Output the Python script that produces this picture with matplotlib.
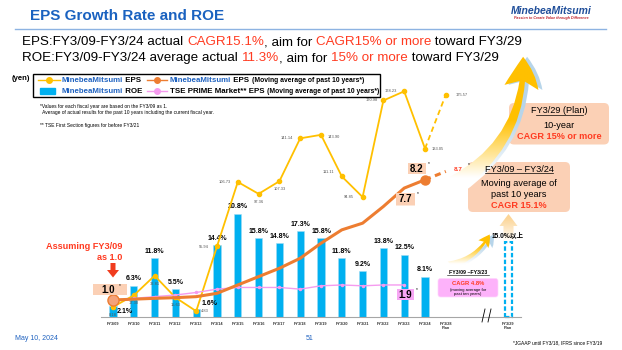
import numpy as np
import matplotlib.pyplot as plt
from matplotlib.patches import FancyBboxPatch, Rectangle, FancyArrowPatch, Polygon

plt.rcParams['font.family'] = ['Liberation Sans', 'Noto Sans CJK JP', 'DejaVu Sans']

years = ['FY3/09', 'FY3/10', 'FY3/11', 'FY3/12', 'FY3/13', 'FY3/14', 'FY3/15', 'FY3/16',
         'FY3/17', 'FY3/18', 'FY3/19', 'FY3/20', 'FY3/21', 'FY3/22', 'FY3/23', 'FY3/24']
plan_labels = ['FY3/28\nPlan', 'FY3/29\nPlan']
roe = [2.1, 6.3, 11.8, 5.5, 1.6, 14.4, 20.8, 15.8, 14.8, 17.3, 15.8, 11.8, 9.2, 13.8, 12.5, 8.1]
roe_plan = 15.0
eps = [8.18, 17.30, 32.81, 15.63, 4.83, 55.94, 106.73, 97.36, 107.33, 141.14, 143.90,
       111.11, 94.85, 170.98, 178.23, 133.05]
eps_plan = 175.57
eps_ma = [1.0, 1.05, 1.1, 1.14, 1.2, 1.4, 1.9, 2.4, 2.9, 3.5, 4.4, 5.2, 5.6, 6.6, 7.7, 8.2]
eps_ma_plan = 8.7
tse_ma = [1.0, 1.1, 1.2, 1.3, 1.45, 1.65, 1.75, 1.75, 1.75, 1.65, 1.85, 1.9, 1.85, 1.9, 1.9]

# label offsets for eps values (pixels), hand placed
eps_off = [(0, 8), (0, 8), (0, 8), (0, 8), (9, 0), (-13, 1), (-13, 0), (0, 8), (0, 8),
           (-13, 0), (13, 2), (-13, -4), (-14, 0), (-12, 0), (-13, 0), (13, 0)]

W, H = 622, 350
X0, DX = 113, 20.8
BASE = 316.7
RED = '#FF3B21'
BLUE_TXT = '#1F62C0'
PEACH = '#FBD0B5'

fig = plt.figure(figsize=(6.22, 3.5), dpi=100)
ax = fig.add_axes([0, 0, 1, 1])
ax_yen = ax.twinx()
ax_idx = ax.twinx()
for a in (ax, ax_yen, ax_idx):
    a.set_axis_off()
ax.set_xlim(-X0 / DX, (W - X0) / DX)
ax.set_ylim((BASE - H) / 4.95, BASE / 4.95)
ax_yen.set_ylim((317.3 - H) / 1.268, 317.3 / 1.268)
ax_idx.set_ylim((BASE - H) / 16.7, BASE / 16.7)

x = np.arange(len(years))
ix_plan28, ix_plan29 = 16, 19

# ROE bars
ax.bar(x, roe, width=0.34, color='#00B0F0', edgecolor='#9FDCF5', lw=0.4)
ax.bar(ix_plan29, roe_plan, width=0.34, fill=False, edgecolor='#00B0F0', ls=(0, (2, 1)), lw=1.6)
for i, v in enumerate(roe):
    if i == 0:
        ax.text(i + 0.2, 1.0, f'{v}%', fontsize=5, fontweight='bold', va='center')
    elif i == 4:
        ax.text(i + 0.25, 2.7, f'{v}%', fontsize=5, fontweight='bold', va='center')
    else:
        ax.text(i, v + 0.7, f'{v}%', fontsize=5, fontweight='bold', ha='center', va='bottom')
ax.plot([-0.6, 19.6], [0, 0], color='#A6A6A6', lw=0.8)
for i, lab in enumerate(years):
    ax.text(i, -1.0, lab, fontsize=2.8, fontweight='bold', ha='center', va='top', color='#333333')
for i, lab in zip([ix_plan28, ix_plan29], plan_labels):
    ax.text(i, -1.0, lab, fontsize=2.8, fontweight='bold', ha='center', va='top',
            color='#333333', linespacing=1.0)

# EPS (yen)
ax_yen.plot(x, eps, color='#FFC000', lw=1.3, marker='o', ms=3)
ax_yen.plot([x[-1], ix_plan28], [eps[-1], eps_plan], color='#FFC000', lw=1.3, ls=(0, (3, 2)))
ax_yen.plot(ix_plan28, eps_plan, 'o', color='#FFC000', ms=3)
for i, v in enumerate(eps):
    dx, dy = eps_off[i]
    ax_yen.annotate(f'{v:.2f}', (i, v), xytext=(dx * 0.72, -dy * 0.72), textcoords='offset points',
                    fontsize=2.9, color='#555555', ha='center', va='center')
ax_yen.annotate(f'{eps_plan:.2f}', (ix_plan28, eps_plan), xytext=(16 * 0.72, 0),
                textcoords='offset points', fontsize=2.9, color='#555555', ha='center', va='center')

# moving averages (index)
ax_idx.plot(np.arange(len(tse_ma)), tse_ma, color='#F59BEF', lw=1.0, marker='o', ms=1.5)
ax_idx.plot(x, eps_ma, color='#ED7D31', lw=2.2)
ax_idx.plot([x[-1], ix_plan28], [eps_ma[-1], eps_ma_plan], color='#ED7D31', lw=2.2, ls=(0, (2, 1.5)))
ax_idx.plot(0, eps_ma[0], 'o', ms=8, mfc='#F4A27A', mec='#ED7D31', mew=1)
ax_idx.plot(x[-1], eps_ma[-1], 'o', ms=6.5, color='#ED7D31')

# overlay in pixel coordinates
ov = fig.add_axes([0, 0, 1, 1])
ov.set_xlim(0, W)
ov.set_ylim(H, 0)
ov.set_axis_off()
ov.patch.set_alpha(0)
renderer = fig.canvas.get_renderer()


def box(x0, y0, x1, y1, fc, r=1.5, ec='none', lw=0):
    ov.add_patch(FancyBboxPatch((x0, y0), x1 - x0, y1 - y0,
                                boxstyle=f'round,pad=0,rounding_size={r}',
                                fc=fc, ec=ec, lw=lw))


def txt(xp, yp, s, size, **kw):
    kw.setdefault('va', 'center')
    return ov.text(xp, yp, s, fontsize=size, **kw)


def colored_line(xp, yp, parts, size, **kw):
    # all parts on one baseline, each one starting where the previous one ends
    for p in parts:
        s, c = p[0], p[1]
        fs = p[2] if len(p) > 2 else size
        t = ov.text(xp, yp, s, fontsize=fs, color=c, va='baseline', **kw)
        bb = t.get_window_extent(renderer)
        xp = ov.transData.inverted().transform((bb.x1, bb.y0))[0]


def grad_fill(patch, c_top, c_bot, y_solid, y_white, ext):
    # vertical fade of a colour into white, clipped to a patch
    ys = np.linspace(ext[3], ext[2], 120)
    f = np.clip((ys - y_solid) / (y_white - y_solid), 0, 1)[:, None, None]
    top = np.array(c_top)[None, None, :]
    bot = np.array(c_bot)[None, None, :]
    img = np.repeat(top * (1 - f) + bot * f, 2, axis=1)
    im = ov.imshow(img, extent=ext, aspect='auto', zorder=patch.get_zorder(),
                   interpolation='bilinear')
    im.set_clip_path(patch)


def hexrgb(h):
    return [int(h[k:k + 2], 16) / 255 for k in (1, 3, 5)]


# header
txt(30, 15.5, 'EPS Growth Rate and ROE', 11, color='#1A62C0', fontweight='bold')
ov.plot([15, 606], [28.5, 28.5], color='#8DB3E2', lw=1)
txt(551, 10.5, 'MinebeaMitsumi', 7.5, color='#1F4E9A', fontweight='bold', style='italic', ha='center')
txt(551, 17.5, 'Passion to Create Value through Difference', 2.6, color='#C0202A',
    fontweight='bold', style='italic', ha='center')

colored_line(22, 45.2, [('EPS:FY3/09-FY3/24 actual ', 'black'), ('CAGR15.1%', RED),
                        (', aim for ', 'black'), ('CAGR15% or more', RED),
                        (' toward FY3/29', 'black')], 9.6)
colored_line(22, 61.2, [('ROE:FY3/09-FY3/24 average actual ', 'black'), ('11.3%', RED),
                        (', aim for ', 'black'), ('15% or more', RED),
                        (' toward FY3/29', 'black')], 9.6)

# legend
txt(12, 78.5, '(yen)', 5.5, fontweight='bold')
ov.add_patch(Rectangle((32.5, 74), 347.5, 23.3, fill=False, ec='black', lw=1))
ov.plot([38, 60], [80, 80], color='#FFC000', lw=1)
ov.plot(49, 80, 'o', color='#FFC000', ms=4)
colored_line(62, 82.2, [('MinebeaMitsumi', BLUE_TXT), (' EPS', 'black')], 5.7, fontweight='bold')
ov.plot([147, 167], [80, 80], color='#ED7D31', lw=1)
ov.plot(157, 80, 'o', color='#ED7D31', ms=4)
colored_line(170, 82.2, [('MinebeaMitsumi', BLUE_TXT), (' EPS ', 'black'),
                         ("(Moving average of past 10 years*)", 'black', 4.9)], 5.7,
             fontweight='bold')
ov.add_patch(Rectangle((40, 87.5), 15, 6, color='#00B0F0'))
colored_line(62, 92.7, [('MinebeaMitsumi', BLUE_TXT), (' ROE', 'black')], 5.7, fontweight='bold')
ov.plot([147, 167], [90.5, 90.5], color='#F59BEF', lw=1)
ov.plot(157, 90.5, 'o', color='#F59BEF', ms=4)
colored_line(170, 92.7, [('TSE PRIME Market** EPS ', 'black'),
                         ("(Moving average of past 10 years*)", 'black', 4.9)], 5.7,
             fontweight='bold')

# notes
txt(40, 106.5, '*Values for each fiscal year are based on the FY3/09 as 1.', 3.5)
txt(41, 112.5, ' Average of actual results for the past 10 years including the current fiscal year.', 3.5)
txt(40, 125, '** TSE First Section figures for before FY3/21', 3.5)

# swoosh arrows (fading into white at the tail)
yellow = hexrgb('#FFC000')
shadow = hexrgb('#B7D5EA')
white = [1, 1, 1]
for dxs, col in [(4, shadow), (0, yellow)]:
    big = FancyArrowPatch((452 + dxs, 186), (523 + dxs, 54),
                          connectionstyle='arc3,rad=0.3',
                          arrowstyle='fancy,head_length=1.7,head_width=1.9,tail_width=1.0',
                          mutation_scale=13, fc='none', ec='none', lw=0, zorder=2)
    ov.add_patch(big)
    grad_fill(big, col, white, 120, 178, (440, 550, 195, 45))
    small = FancyArrowPatch((446 + dxs, 266), (491 + dxs, 232),
                            connectionstyle='arc3,rad=0.25',
                            arrowstyle='fancy,head_length=1.2,head_width=1.3,tail_width=0.8',
                            mutation_scale=7, fc='none', ec='none', lw=0, zorder=2)
    ov.add_patch(small)
    grad_fill(small, col, white, 245, 264, (440, 505, 270, 225))

# peach up arrow with gradient
poly = Polygon([(503.5, 241), (503.5, 226), (499.5, 226), (508.5, 214), (517.5, 226),
                (513.5, 226), (513.5, 241)], closed=True, fc='none', ec='none', zorder=3)
ov.add_patch(poly)
grad_fill(poly, hexrgb('#FCD596'), white, 218, 242, (499, 518, 242, 213))

ov.text(508, 235.5, '15.0%以上', fontsize=4.8, fontweight='bold', ha='center', va='center',
        zorder=5)

# plan boxes
box(509, 103, 609, 144.5, PEACH, r=5)
txt(559, 110.5, 'FY3/29 (Plan)', 6.6, ha='center')
ov.plot([535.5, 582.5], [114.5, 114.5], color='black', lw=0.5)
txt(559, 125.5, '10-year', 6.6, ha='center')
txt(559, 136.5, 'CAGR 15% or more', 6.6, ha='center', color=RED, fontweight='bold')

box(468, 162, 570, 212, PEACH, r=5)
txt(519, 169, 'FY3/09 – FY3/24', 6.6, ha='center')
ov.plot([485, 553], [173, 173], color='black', lw=0.5)
txt(519, 183.5, 'Moving average of', 6.6, ha='center')
txt(519, 194.5, 'past 10 years', 6.6, ha='center')
txt(519, 205.5, 'CAGR 15.1%', 6.6, ha='center', color=RED, fontweight='bold')

# value tags
box(93, 284, 127, 295, PEACH, r=0)
txt(108, 289.8, '1.0', 7, ha='center', fontweight='bold')
txt(120, 286, '*', 3.5, ha='center')
box(408, 163, 426, 174, PEACH, r=0)
txt(417, 168.8, '8.2', 7, ha='center', fontweight='bold')
txt(429, 164, '*', 3.5, ha='center')
box(396, 193, 415, 205.5, PEACH, r=0)
txt(405.5, 199.5, '7.7', 7, ha='center', fontweight='bold')
txt(418, 194, '*', 3.5, ha='center')
box(397, 289, 414, 300, '#F7A6F4', r=0)
txt(405.5, 294.8, '1.9', 7, ha='center', fontweight='bold')
txt(417, 290, '*', 3.5, ha='center')
txt(454, 169.5, '8.7', 4.5, color=RED, fontweight='bold', zorder=5)
txt(469, 165, '*', 3.5, ha='center', zorder=5)

# assuming 1.0 note with red arrow
txt(122, 246.5, 'Assuming FY3/09', 6.6, ha='right', color=RED, fontweight='bold')
txt(122, 258, 'as 1.0', 6.6, ha='right', color=RED, fontweight='bold')
ov.add_patch(Polygon([(110.5, 263), (115.5, 263), (115.5, 270), (119, 270), (113, 277.5),
                      (107, 270), (110.5, 270)], closed=True, fc='#F03C1E', ec='none'))

# TSE CAGR note
txt(468, 272, 'FY3/09 –FY3/23', 3.8, ha='center', fontweight='bold')
ov.plot([447, 489], [274.5, 274.5], color='black', lw=0.4)
box(438, 278.5, 498, 297, '#FDB2FA', r=2.5, ec='#FFD6FD', lw=0.5)
txt(468, 283.5, 'CAGR 4.8%', 4.2, ha='center', color=RED, fontweight='bold')
txt(468, 289.5, '(moving average for', 3.0, ha='center')
txt(468, 294.5, 'past ten years)', 3.0, ha='center')

# axis break
for bx in (483, 489):
    ov.plot([bx + 2, bx - 1], [309, 322], color='black', lw=0.6)

# footer
txt(15, 339, 'May 10, 2024', 5, color=BLUE_TXT)
txt(310, 339, '51', 5, color=BLUE_TXT, ha='center')
txt(513, 343, '*JGAAP until FY3/18, IFRS since FY3/19', 3.5)

fig.savefig('out.png', dpi=100)
